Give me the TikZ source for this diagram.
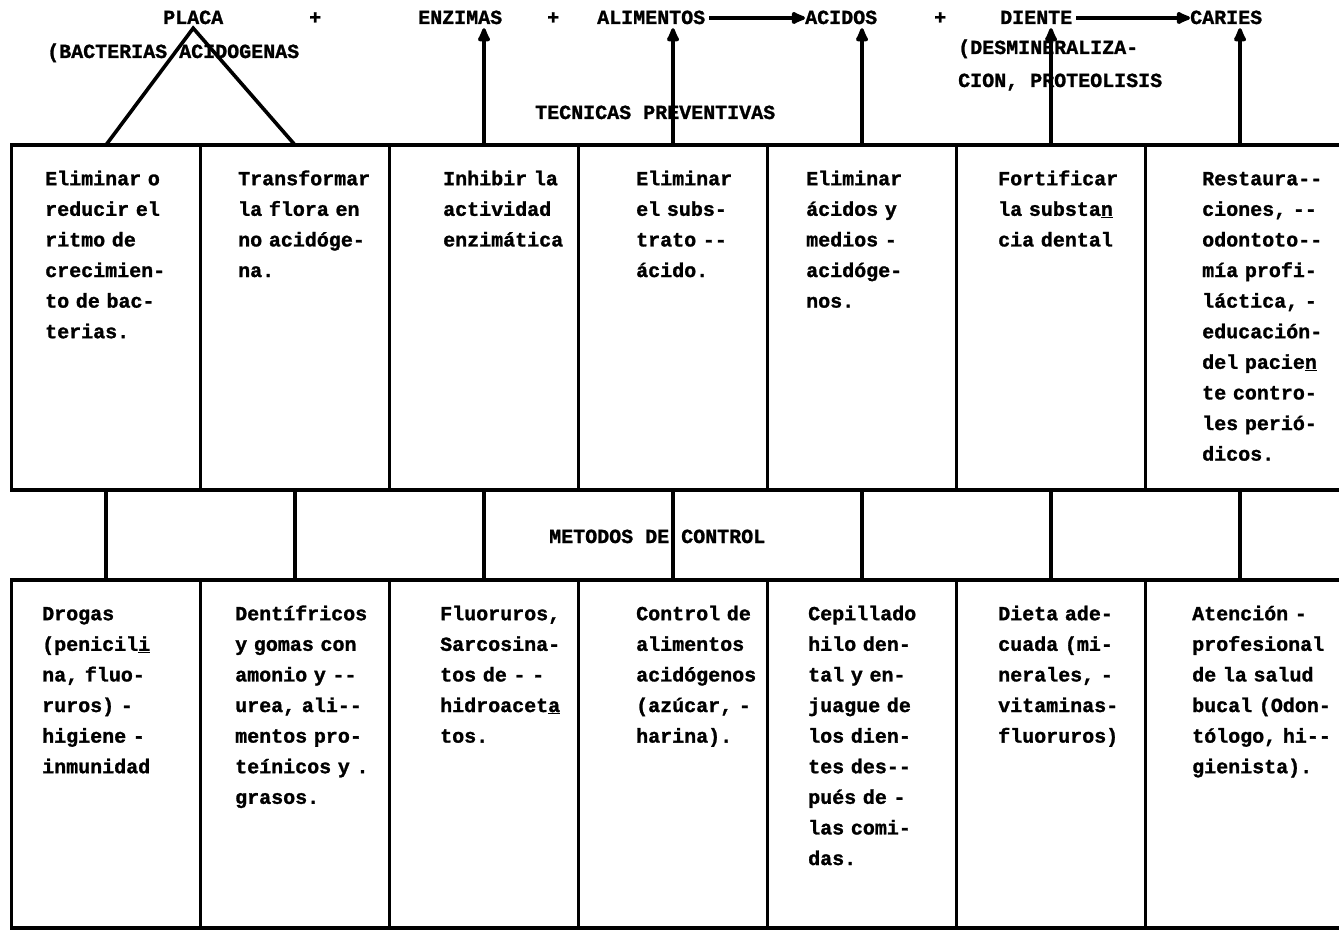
\documentclass[tikz,border=0pt]{standalone}
\usepackage{fontspec}
\setmonofont{Liberation Mono}[BoldFeatures={FakeBold=1.3}]
\usetikzlibrary{arrows.meta}
\begin{document}
\begin{tikzpicture}[x=1pt,y=-1pt,
  box/.style={draw,line width=3.2pt,minimum width=189pt,anchor=north west,inner sep=0pt,outer sep=0pt},
  tbox/.style={box,minimum height=345pt},
  bbox/.style={box,minimum height=348pt},
  txt/.style={anchor=north west,inner sep=0pt,text width=175pt,align=left,font=\fontsize{20}{30.6}\selectfont\ttfamily\bfseries},
  lab/.style={anchor=base west,inner xsep=0pt,inner ysep=4pt,text height=12pt,text depth=0pt,font=\fontsize{20}{24}\selectfont\ttfamily\bfseries},
  conn/.style={line width=3.6pt},
  arr/.style={conn,-{Latex[length=18pt,width=15pt,round]}}]
\useasboundingbox (0,0) rectangle (1339,933);
\clip (0,0) rectangle (1339,933);

% top row boxes
\node[tbox] (t1) at (11.5,145) {};
\node[tbox] (t2) at (200.5,145) {};
\node[tbox] (t3) at (389.5,145) {};
\node[tbox] (t4) at (578.5,145) {};
\node[tbox] (t5) at (767.5,145) {};
\node[tbox] (t6) at (956.5,145) {};
\node[tbox,minimum width=210pt] (t7) at (1145.5,145) {};
% bottom row boxes
\node[bbox] (b1) at (11.5,580) {};
\node[bbox] (b2) at (200.5,580) {};
\node[bbox] (b3) at (389.5,580) {};
\node[bbox] (b4) at (578.5,580) {};
\node[bbox] (b5) at (767.5,580) {};
\node[bbox] (b6) at (956.5,580) {};
\node[bbox,minimum width=210pt] (b7) at (1145.5,580) {};

% top row texts
\node[txt] (tx1) at (45,163.6) {\strut Eliminar o\\reducir el\\ritmo de\\crecimien-\\to de bac-\\terias.};
\node[txt] (tx2) at (238,163.6) {\strut Transformar\\la flora en\\no acidóge-\\na.};
\node[txt] (tx3) at (443,163.6) {\strut Inhibir la\\actividad\\enzimática};
\node[txt] (tx4) at (636,163.6) {\strut Eliminar\\el subs-\\trato --\\ácido.};
\node[txt] (tx5) at (806,163.6) {\strut Eliminar\\ácidos y\\medios -\\acidóge-\\nos.};
\node[txt] (tx6) at (998,163.6) {\strut Fortificar\\la substa\underline{n}\\cia dental};
\node[txt] (tx7) at (1202,163.6) {\strut Restaura--\\ciones, --\\odontoto--\\mía profi-\\láctica, -\\educación-\\del pacie\underline{n}\\te contro-\\les perió-\\dicos.};

% bottom row texts
\node[txt] (bx1) at (42,598.6) {\strut Drogas\\(penicil\underline{i}\\na, fluo-\\ruros) -\\higiene -\\inmunidad};
\node[txt] (bx2) at (235,598.6) {\strut Dentífricos\\y gomas con\\amonio y --\\urea, ali--\\mentos pro-\\teínicos y .\\grasos.};
\node[txt] (bx3) at (440,598.6) {\strut Fluoruros,\\Sarcosina-\\tos de - -\\hidroacet\underline{a}\\tos.};
\node[txt] (bx4) at (636,598.6) {\strut Control de\\alimentos\\acidógenos\\(azúcar, -\\harina).};
\node[txt] (bx5) at (808,598.6) {\strut Cepillado\\hilo den-\\tal y en-\\juague de\\los dien-\\tes des--\\pués de -\\las comi-\\das.};
\node[txt] (bx6) at (998,598.6) {\strut Dieta ade-\\cuada (mi-\\nerales, -\\vitaminas-\\fluoruros)};
\node[txt] (bx7) at (1192,598.6) {\strut Atención -\\profesional\\de la salud\\bucal (Odon-\\tólogo, hi--\\gienista).};

% labels
\node[lab] (placa) at (163,24) {PLACA};
\node[lab] (plus1) at (309,24) {+};
\node[lab] (enz) at (418,24) {ENZIMAS};
\node[lab] (plus2) at (547,24) {+};
\node[lab] (alim) at (597,24) {ALIMENTOS};
\node[lab] (acid) at (805,24) {ACIDOS};
\node[lab] (plus3) at (934,24) {+};
\node[lab] (diente) at (1000,24) {DIENTE};
\node[lab] (caries) at (1190,24) {CARIES};
\node[lab] (bact) at (47,58) {(BACTERIAS ACIDOGENAS};
\node[lab] (desm) at (958,54) {(DESMINERALIZA-};
\node[lab] (cion) at (958,87) {CION, PROTEOLISIS};
\node[lab] (tec) at (535,119) {TECNICAS PREVENTIVAS};
\node[lab] (met) at (549,543) {METODOS DE CONTROL};

% connectors
\draw[conn,line join=miter] (t1.north) -- (placa.south) -- (t2.north);
\draw[arr] (t3.north) -- (t3.north |- enz.south);
\draw[arr] (t4.north) -- (t4.north |- alim.south);
\draw[arr] (t5.north) -- (t5.north |- acid.south);
\draw[arr] (t6.north) -- (t6.north |- diente.south);
\draw[arr] ([xshift=-10.5pt]t7.north) -- ([xshift=-10.5pt]t7.north |- caries.south);
\draw[arr] ([xshift=4pt]alim.east) -- (acid.west);
\draw[arr] ([xshift=4pt]diente.east) -- (caries.west);
\draw[conn] (t1.south) -- (b1.north);
\draw[conn] (t2.south) -- (b2.north);
\draw[conn] (t3.south) -- (b3.north);
\draw[conn] (t4.south) -- (b4.north);
\draw[conn] (t5.south) -- (b5.north);
\draw[conn] (t6.south) -- (b6.north);
\draw[conn] ([xshift=-10.5pt]t7.south) -- ([xshift=-10.5pt]b7.north);
\end{tikzpicture}
\end{document}
